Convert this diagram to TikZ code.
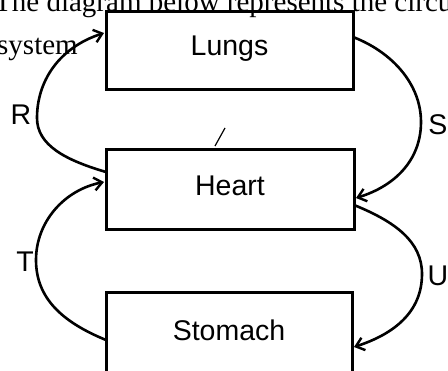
\documentclass[tikz,border=0pt]{standalone}
\usepackage{fontspec}
\setmainfont{Liberation Sans}
\newfontfamily\serifx{Liberation Serif}
\usetikzlibrary{arrows.meta}
\begin{document}
\begin{tikzpicture}[x=1pt,y=-1pt,
  box/.style={draw=black,line width=3pt,fill=none,inner sep=0pt,outer sep=0pt,
    text height=20pt,text depth=0pt,font=\fontsize{28.5}{30}\selectfont},
  lab/.style={font=\fontsize{28.5}{30}\selectfont,inner sep=0pt},
  conn/.style={line width=2.6pt,-{Straight Barb[length=8pt,width=13pt,line width=2.4pt]}},
  toptext/.style={font=\serifx\fontsize{29}{31}\selectfont,inner sep=0pt,anchor=base west}]
\useasboundingbox (0,0) rectangle (448,371);
\clip (0,0) rectangle (448,371);
\fill[white] (0,0) rectangle (448,371);
% top text (partly cut off, as in the reference)
\node[toptext] (intro) at (-6,12) {The diagram below represents the circulatory};
\node[toptext] (sys) at (-3,55) {system};
% boxes
\node[box,minimum width=247pt,minimum height=78pt] (lungs) at (229.5,51) {\raisebox{5pt}{Lungs}};
\node[box,minimum width=248pt,minimum height=80pt] (heart) at (230,190) {\raisebox{4pt}{Heart}};
\node[box,minimum width=246pt,minimum height=80pt] (stomach) at (229,333) {\raisebox{2pt}{Stomach}};
% connectors
\coordinate (rmid) at (37,118);
\coordinate (smid) at (421,122);
\coordinate (tmid) at (36,260);
\coordinate (umid) at (422,274);
\draw[conn] ([yshift=18pt]heart.west) .. controls (65,160) and (37,145) .. (rmid)
  .. controls (37,82) and (58,48) .. ([yshift=18pt,xshift=-2pt]lungs.west);
\draw[conn] ([yshift=14pt]lungs.east) .. controls (392,52) and (421,84) .. (smid)
  .. controls (421,160) and (395,186) .. ([yshift=-8pt,xshift=2pt]heart.east);
\draw[conn] ([yshift=-7pt]stomach.west) .. controls (62,322) and (36,298) .. (tmid)
  .. controls (36,222) and (64,190) .. ([yshift=8pt,xshift=-2pt]heart.west);
\draw[conn] ([yshift=-15pt]heart.east) .. controls (396,222) and (422,242) .. (umid)
  .. controls (422,312) and (394,334) .. ([yshift=-14pt,xshift=2pt]stomach.east);
% labels
\node[lab] (R) at (21,115) {R};
\node[lab] (S) at (438,125) {S};
\node[lab] (T) at (25,262) {T};
\node[lab] (U) at (438,276) {U};
% stray mark
\draw[line width=1.2pt] (225,128) -- (215,146);
\end{tikzpicture}
\end{document}
